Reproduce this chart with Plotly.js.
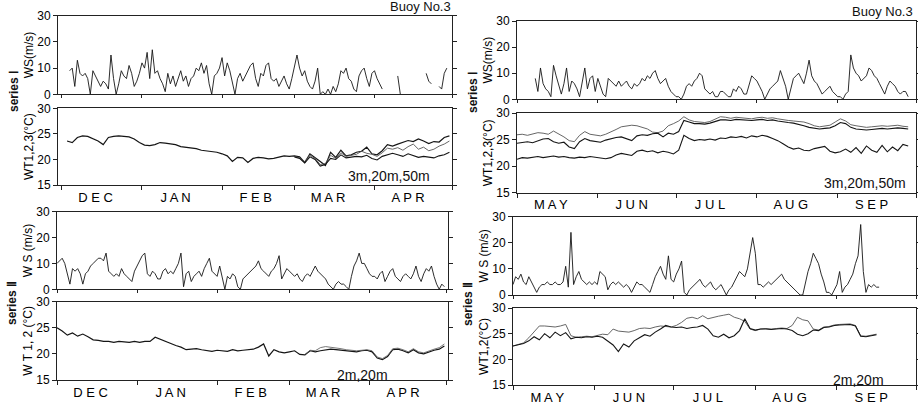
<!DOCTYPE html>
<html><head><meta charset="utf-8">
<script src="https://cdn.plot.ly/plotly-3.0.1.min.js"></script>
<style>html,body{margin:0;padding:0;background:#fff}#chart{width:918px;height:407px}</style>
</head><body><div id="chart"></div>
<script>
// ---------- categories / tick labels ----------
const leftMonths = ['D E C','J A N','F E B','M A R','A P R'];
const rightMonths = ['M A Y','J U N','J U L','A U G','S E P'];
const leftBounds = [0,31,62,90,121,151];   // days from Dec 1
const rightBounds = [0,31,61,92,123,153];  // days from May 1

// ---------- series I, Dec-Apr (daily wind speed, m/s), starts day 3 ----------
const wsI_win_start = 3;
const wsI_win = [9,10,3,13,8,7,8,6,0,9,7,5,3,5,4,2,15,6,0,4,9,7,6,11,8,3,5,8,12,10,16,6,17,8,9,6,4,1,8,4,7,3,6,9,5,7,3,6,7,10,9,12,8,11,4,0,7,8,10,14,7,12,9,5,0,6,8,5,7,9,11,12,6,3,8,7,11,12,6,5,6,3,5,7,4,2,6,10,15,10,7,9,5,3,2,5,10,0,1,0,2,0,3,1,4,9,8,10,6,5,2,1,7,9,10,6,3,8,9,6,4,2,null,null,null,null,null,7,0,null,null,null,null,null,null,null,null,null,8,5,4,null,null,3,2,8,10];
// water temperature (°C), every 2 days
const wtI_win_3m_start = 2;
const wtI_win_3m = [23.6,23.3,24.3,24.6,24.5,24.1,23.6,22.9,24.3,24.5,24.6,24.5,24.4,24.0,23.3,22.8,22.7,22.9,23.3,23.2,23.0,22.9,22.5,22.4,22.3,22.1,21.8,21.7,21.6,21.4,21.1,20.7,19.6,20.4,20.3,19.4,20.2,20.4,20.3,20.1,20.2,20.5,20.7,20.6,20.7,20.5,19.4,21.1,20.4,19.6,18.8,21.4,20.4,21.8,20.7,20.9,21.4,21.6,22.4,21.1,20.9,21.7,22.9,22.6,23.0,23.4,23.7,23.5,24.0,23.6,23.1,23.5,23.4,24.3,24.6];
const wtI_win_deep_start = 90;
const wtI_win_20m = [20.6,20.3,19.6,20.8,20.2,19.0,19.2,20.8,20.2,21.3,20.6,20.8,21.0,21.6,21.2,21.0,20.6,21.3,22.2,22.0,22.3,21.8,22.5,23.0,22.0,22.4,21.7,22.0,22.6,23.0,23.6];
const wtI_win_50m = [20.5,20.2,19.3,20.5,20.0,18.7,19.0,20.2,20.0,20.9,20.3,20.4,20.6,20.5,20.8,20.2,19.9,20.6,20.9,21.2,20.9,20.6,21.1,20.8,20.4,20.6,20.5,20.3,20.7,20.9,21.4];

// ---------- series I, May-Sep ----------
const wsI_sum_start = 7;
const wsI_sum = [8,3,12,6,4,3,1,13,9,5,2,6,12,3,7,6,4,1,6,12,4,8,9,3,8,5,2,1,8,7,6,5,7,5,6,7,5,4,6,5,6,8,7,9,8,10,11,8,6,7,8,5,3,2,1,1,0,2,5,6,5,7,8,10,9,4,3,2,3,1,1,3,3,2,1,1,4,3,5,4,2,2,6,9,8,7,5,3,0,2,4,5,6,7,11,8,5,0,4,8,9,10,8,6,10,15,9,7,6,4,2,3,4,5,3,2,1,1,0,2,3,17,12,10,9,7,8,9,12,11,9,8,6,4,2,5,7,6,5,3,2,3,3,1];
const wtI_sum_start = 0;
const wtI_sum_3m = [25.9,26.0,25.8,26.1,26.3,26.2,26.0,26.6,26.1,25.5,24.8,24.6,25.8,26.5,26.0,25.8,25.7,26.0,26.4,26.9,27.4,27.5,27.7,27.6,27.3,27.0,26.4,26.3,26.6,27.6,28.0,28.5,29.3,28.7,28.4,28.3,28.2,28.4,28.8,29.3,29.2,29.0,29.2,29.1,29.0,28.9,29.1,29.2,29.0,29.1,28.9,28.7,28.6,28.5,28.4,28.3,28.0,27.6,27.4,27.5,27.7,28.3,28.9,28.5,27.8,27.6,27.5,27.3,27.4,27.5,27.6,27.5,27.6,27.7,27.5,27.4];
const wtI_sum_20m = [24.3,24.5,24.6,24.4,24.7,25.1,25.2,24.6,24.3,24.5,23.6,23.3,24.6,25.2,24.8,24.6,24.5,24.9,25.2,25.4,25.5,25.1,24.8,25.7,25.9,25.8,26.1,26.2,25.5,26.2,26.0,26.5,28.6,28.3,28.0,28.0,27.9,28.1,28.4,28.7,28.7,28.6,28.8,28.7,28.6,28.6,28.7,28.8,28.6,28.7,28.5,28.3,28.2,28.1,27.9,27.6,27.3,27.1,27.0,27.1,27.2,27.6,28.2,28.0,27.3,27.0,26.9,26.8,26.9,27.0,27.1,27.0,27.1,27.2,27.1,27.0];
const wtI_sum_50m = [21.3,21.6,21.5,21.7,21.8,21.6,21.7,21.9,21.7,21.8,21.6,21.5,21.7,21.6,21.8,21.7,21.5,21.4,21.6,22.1,22.4,22.2,22.0,22.8,23.0,22.7,22.9,22.5,22.8,22.6,22.3,23.0,25.8,25.2,24.8,25.0,24.9,25.1,24.9,25.3,25.2,25.5,25.4,25.6,25.3,25.7,25.5,25.8,25.6,25.2,24.8,24.2,23.6,23.2,23.4,23.0,22.9,23.3,23.5,23.7,22.8,22.5,22.7,23.2,22.6,23.5,22.4,23.8,23.0,22.6,23.9,22.7,23.6,22.9,24.1,23.8];

// ---------- series II, Dec-Apr ----------
const wsII_win_start = 0;
const wsII_win = [10,11,12,10,6,2,8,7,8,6,2,6,7,9,10,11,12,12,11,14,7,6,5,6,5,8,6,5,4,3,7,9,11,13,14,6,5,7,6,4,4,7,8,6,7,6,8,10,14,1,6,7,3,5,6,7,5,8,10,12,7,6,5,9,4,0,5,4,6,5,1,0,4,5,6,7,8,9,11,8,7,6,5,7,8,10,13,4,6,8,7,6,5,6,4,3,5,6,5,7,9,7,6,5,4,2,1,0,2,3,2,2,1,0,5,9,11,14,10,10,8,6,5,5,4,6,7,3,5,7,8,5,4,3,5,6,5,4,6,9,5,3,6,8,7,9,5,2,0,2,1];
const wtII_win_2m_start = 0;
const wtII_win_2m = [25.0,24.4,23.6,24.0,23.4,23.8,23.3,22.7,22.6,22.4,22.4,22.2,22.4,22.3,22.2,22.4,22.2,22.4,22.4,23.2,22.8,22.3,21.9,21.6,21.3,20.8,20.9,21.0,20.8,20.6,20.5,20.7,20.6,20.5,20.8,20.6,20.7,20.8,20.9,21.3,21.9,19.6,20.8,20.4,20.2,20.4,20.6,19.9,19.8,20.6,20.4,20.6,20.8,20.9,20.8,20.7,20.6,20.5,20.4,20.6,20.7,20.4,19.2,18.9,19.5,20.8,20.9,20.6,20.2,20.8,20.2,20.0,20.4,20.7,20.9,21.5];
const wtII_win_20m_start = 96;
const wtII_win_20m = [19.9,20.7,20.6,21.2,21.4,21.3,21.2,21.0,20.8,20.7,20.6,20.7,20.8,20.6,19.4,19.1,19.7,21.0,21.1,20.8,20.4,21.0,20.4,20.2,20.6,20.9,21.2,21.9];

// ---------- series II, May-Sep ----------
const wsII_sum_start = 0;
const wsII_sum = [4,7,6,8,5,4,7,5,3,1,3,4,4,5,4,4,5,4,4,5,11,3,24,4,7,9,6,5,4,5,4,5,4,9,8,7,2,4,5,4,5,4,3,4,3,1,3,5,4,4,3,2,1,4,7,9,11,8,6,15,6,5,8,10,13,1,0,2,3,4,5,6,4,3,4,5,3,2,3,4,2,0,2,3,5,7,9,8,7,10,16,22,16,4,4,3,4,5,4,5,6,7,8,6,5,4,3,2,1,0,0,5,9,12,16,14,12,8,5,1,1,0,2,4,9,1,3,4,6,8,12,15,27,9,1,4,3,4,3,3];
const wtII_sum_start = 0;
const wtII_sum_2m = [22.6,22.9,23.2,24.2,25.4,26.5,26.5,26.4,26.3,26.5,26.8,24.6,24.3,24.4,24.5,24.4,24.7,24.9,24.8,25.9,25.5,25.4,25.3,25.6,26.0,26.1,26.0,26.3,26.5,26.4,26.3,26.6,27.2,28.0,28.2,27.9,28.5,27.9,28.2,28.4,28.6,28.8,28.2,27.9,27.4,25.9,25.6,25.9,26.0,25.9,26.0,26.1,26.0,26.6,28.2,27.7,27.5,25.9,25.7,26.3,26.4,26.7,26.8,26.8,26.9,26.6,24.6,24.5,24.7,24.9];
const wtII_sum_20m = [22.6,22.9,23.1,23.6,24.4,23.8,25.0,24.2,25.3,24.6,25.2,24.0,24.3,24.2,24.4,24.3,24.5,24.3,23.6,22.8,21.5,23.0,22.4,23.6,24.2,24.8,24.5,25.3,25.9,26.6,26.3,26.2,26.3,26.0,26.2,26.3,26.6,25.9,24.6,24.3,24.9,24.2,24.6,25.6,27.9,26.0,25.7,25.9,25.9,25.8,25.9,26.0,25.9,25.6,24.9,24.6,25.0,25.7,25.6,26.2,26.3,26.6,26.7,26.7,26.8,26.5,24.5,24.4,24.6,24.8];

// ---------- build ----------
const W = 918, H = 407;
function seq(start, step, n) { const a = []; for (let i = 0; i < n; i++) a.push(start + i * step); return a; }
function tr(start, step, ys, xa, ya, color, width) {
  return {type:'scatter', mode:'lines', x: seq(start, step, ys.length), y: ys,
    xaxis: xa, yaxis: ya, line: {color: color, width: width}, connectgaps: false,
    hoverinfo: 'skip', showlegend: false};
}
const dark = '#151515', mid = '#555';
const data = [
  tr(wsI_win_start, 1, wsI_win, 'x', 'y', dark, 0.9),
  tr(wtI_win_3m_start, 2, wtI_win_3m, 'x2', 'y2', dark, 1.2),
  tr(wtI_win_deep_start, 2, wtI_win_20m, 'x2', 'y2', mid, 0.9),
  tr(wtI_win_deep_start, 2, wtI_win_50m, 'x2', 'y2', dark, 1.1),
  tr(wsI_sum_start, 1, wsI_sum, 'x3', 'y3', dark, 0.9),
  tr(wtI_sum_start, 2, wtI_sum_3m, 'x4', 'y4', mid, 0.9),
  tr(wtI_sum_start, 2, wtI_sum_20m, 'x4', 'y4', dark, 1.1),
  tr(wtI_sum_start, 2, wtI_sum_50m, 'x4', 'y4', dark, 1.1),
  tr(wsII_win_start, 1, wsII_win, 'x5', 'y5', dark, 0.9),
  tr(wtII_win_2m_start, 2, wtII_win_2m, 'x6', 'y6', dark, 1.2),
  tr(wtII_win_20m_start, 2, wtII_win_20m, 'x6', 'y6', mid, 0.8),
  tr(wsII_sum_start, 1, wsII_sum, 'x7', 'y7', dark, 0.9),
  tr(wtII_sum_start, 2, wtII_sum_2m, 'x8', 'y8', mid, 0.9),
  tr(wtII_sum_start, 2, wtII_sum_20m, 'x8', 'y8', dark, 1.1)
];

const FONT = 'Liberation Sans, Arial, sans-serif';
const tickFont = {family: FONT, size: 12, color: '#000'};
const monthFont = {family: FONT, size: 13, color: '#000'};
const titleFont = {family: FONT, size: 12, color: '#000'};
function xd(a, b) { return [a / W, b / W]; }
function yd(top, bottom) { return [1 - bottom / H, 1 - top / H]; }
const axBase = {showline: true, linecolor: '#222', linewidth: 1, mirror: true, showgrid: false, zeroline: false, fixedrange: true};

function wsX(dom, range, bounds, anchor) {
  return Object.assign({}, axBase, {domain: dom, range: range, anchor: anchor, tickmode: 'array', tickvals: bounds,
    showticklabels: false, ticks: 'outside', ticklen: 3, tickcolor: '#222'});
}
function wtX(dom, range, bounds, labels, anchor) {
  return Object.assign({}, axBase, {domain: dom, range: range, anchor: anchor, tickmode: 'array',
    tickvals: bounds.slice(0, 5).map(b => b + 13), ticktext: labels, ticks: '', tickfont: monthFont,
    minor: {tickmode: 'array', tickvals: bounds, ticks: 'outside', ticklen: 4, tickcolor: '#222'}});
}
function wsY(dom, anchor, title) {
  return Object.assign({}, axBase, {domain: dom, anchor: anchor, range: [0, 30], tickmode: 'array', tickvals: [0,10,20,30],
    ticks: 'outside', ticklen: 4, tickcolor: '#222', mirror: 'ticks', tickfont: tickFont,
    title: {text: title, font: titleFont, standoff: 1}});
}
function wtY(dom, anchor, title) {
  return Object.assign({}, axBase, {domain: dom, anchor: anchor, range: [15, 30], tickmode: 'array', tickvals: [15,20,25,30],
    ticks: 'outside', ticklen: 4, tickcolor: '#222', mirror: 'ticks', tickfont: tickFont,
    title: {text: title, font: titleFont, standoff: 1}});
}

const LX = xd(58, 452), LXb = xd(57, 448), RX = xd(517, 916), RXb = xd(513, 916);
const layout = {
  width: W, height: H, margin: {l: 0, r: 0, t: 0, b: 0},
  paper_bgcolor: '#fff', plot_bgcolor: '#fff', showlegend: false,
  xaxis:  wsX(LX, [-1.5, 151], leftBounds, 'y'),
  yaxis:  wsY(yd(15.7, 94.3), 'x', 'WS(m/s)'),
  xaxis2: wtX(LX, [-1.5, 151], leftBounds, leftMonths, 'y2'),
  yaxis2: wtY(yd(108.3, 185), 'x2', 'WT1,2,3(°C)'),
  xaxis3: wsX(RX, [0, 153], rightBounds, 'y3'),
  yaxis3: wsY(yd(21, 99.3), 'x3', 'WS(m/s)'),
  xaxis4: wtX(RX, [0, 153], rightBounds, rightMonths, 'y4'),
  yaxis4: wtY(yd(113, 192.7), 'x4', 'WT1,2,3(°C)'),
  xaxis5: wsX(LXb, [0, 151.4], leftBounds, 'y5'),
  yaxis5: wsY(yd(211.7, 289.3), 'x5', 'W S (m/s)'),
  xaxis6: wtX(LXb, [0, 151.4], leftBounds, leftMonths, 'y6'),
  yaxis6: wtY(yd(301.7, 380), 'x6', 'W T 1, 2 (°C)'),
  xaxis7: wsX(RXb, [0, 153], rightBounds, 'y7'),
  yaxis7: wsY(yd(216.7, 295), 'x7', 'W S (m/s)'),
  xaxis8: wtX(RXb, [0, 153], rightBounds, rightMonths, 'y8'),
  yaxis8: wtY(yd(308, 385), 'x8', 'WT1,2(°C)'),
  annotations: []
};
function ann(text, x, y, xa, ya, extra) {
  return Object.assign({text: text, xref: 'paper', yref: 'paper', x: x / W, y: 1 - y / H, xanchor: xa, yanchor: ya,
    showarrow: false, font: {family: FONT, size: 12, color: '#111'}}, extra || {});
}
const f14 = {font: {family: FONT, size: 14, color: '#111'}};
const f13 = {font: {family: FONT, size: 13, color: '#111'}};
layout.annotations.push(
  ann('Buoy No.3', 453, 16, 'right', 'bottom', f13),
  ann('Buoy No.3', 915, 21, 'right', 'bottom', f13),
  ann('3m,20m,50m', 432, 176, 'right', 'middle', f14),
  ann('3m,20m,50m', 908, 183, 'right', 'middle', f14),
  ann('2m,20m', 390, 375, 'right', 'middle', f14),
  ann('2m,20m', 886, 380, 'right', 'middle', f14),
  ann('<b>series Ⅰ</b>', 14, 91, 'center', 'middle', {textangle: -90}),
  ann('<b>series Ⅰ</b>', 473, 92, 'center', 'middle', {textangle: -90}),
  ann('<b>series Ⅱ</b>', 12, 303, 'center', 'middle', {textangle: -90}),
  ann('<b>series Ⅱ</b>', 468, 304, 'center', 'middle', {textangle: -90})
);
Plotly.newPlot('chart', data, layout, {staticPlot: true, displayModeBar: false});
</script></body></html>
